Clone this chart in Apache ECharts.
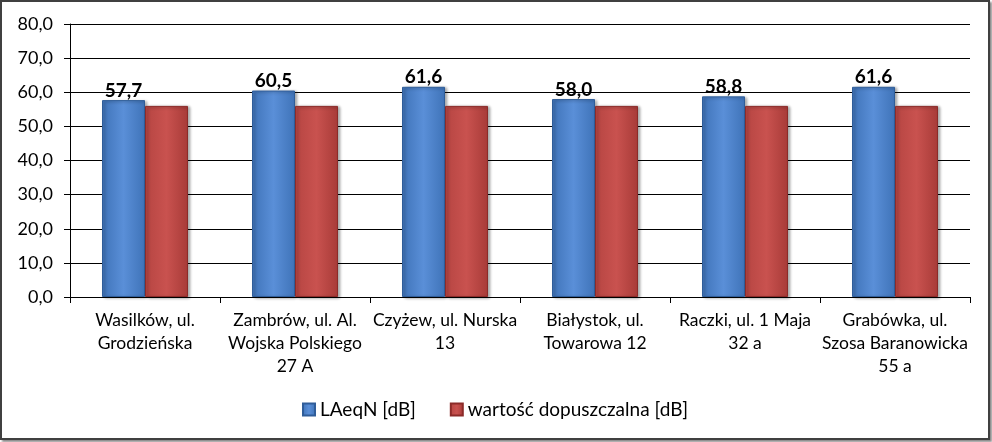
<!DOCTYPE html>
<html><head><meta charset="utf-8">
<script src="https://cdn.jsdelivr.net/npm/echarts@6/dist/echarts.min.js"></script>
<style>
html,body{margin:0;padding:0;background:#fff;}
#c{position:absolute;left:0;top:0;width:986px;height:436px;border:2px solid #404040;box-shadow:2px 2px 2px #8a8a8a;background:#fff;}
</style></head><body>
<div id="c"></div>
<script>
const categories = ["Wasilków, ul.\nGrodzieńska","Zambrów, ul. Al.\nWojska Polskiego\n27 A","Czyżew, ul. Nurska\n13","Białystok, ul.\nTowarowa 12","Raczki, ul. 1 Maja\n32 a","Grabówka, ul.\nSzosa Baranowicka\n55 a"];
const laeqn = [57.7, 60.5, 61.6, 58.0, 58.8, 61.6];
const dopuszczalna = [56, 56, 56, 56, 56, 56];
const seriesNames = ["LAeqN [dB]", "wartość dopuszczalna [dB]"];

const font = "Lato, 'Open Sans', sans-serif";
function grad(a,b,c){return new echarts.graphic.LinearGradient(0,0,1,0,[{offset:0,color:a},{offset:0.5,color:b},{offset:1,color:c}]);}
const chart = echarts.init(document.getElementById('c'));
chart.setOption({
  animation:false,
  grid:{left:68,right:18,top:22,bottom:141},
  legend:{bottom:14,left:'center',itemWidth:12,itemHeight:12,itemGap:34,icon:'rect',
    textStyle:{fontFamily:font,fontSize:19,color:'#000'},
    data:seriesNames},
  xAxis:{type:'category',data:categories,
    axisLine:{lineStyle:{color:'#000',width:1}},
    axisTick:{show:true,length:6,lineStyle:{color:'#000'}},
    axisLabel:{fontFamily:font,fontSize:17.5,color:'#000',lineHeight:23,margin:12,interval:0}},
  yAxis:{type:'value',min:0,max:80,interval:10,
    axisLine:{show:true,lineStyle:{color:'#000'}},
    axisTick:{show:true,length:6,lineStyle:{color:'#000'}},
    splitLine:{lineStyle:{color:'#000',width:1}},
    axisLabel:{fontFamily:font,fontSize:18,color:'#000',margin:17,formatter:v=>v.toFixed(1).replace('.',',')}},
  series:[
    {name:seriesNames[0],type:'bar',data:laeqn,barWidth:43,barGap:'0%',
      itemStyle:{color:grad('#3f73b8','#5a8fd8','#3f73b8'),borderColor:'#2f5d99',borderWidth:1,
        shadowColor:'rgba(0,0,0,0.35)',shadowBlur:3,shadowOffsetX:2,shadowOffsetY:1},
      label:{show:true,position:'top',distance:0,fontFamily:font,fontSize:19,fontWeight:'bold',color:'#000',
        formatter:p=>p.value.toFixed(1).replace('.',',')}},
    {name:seriesNames[1],type:'bar',data:dopuszczalna,barWidth:43,
      itemStyle:{color:grad('#b64542','#c9524f','#a83b38'),borderColor:'#8c2b29',borderWidth:1,
        shadowColor:'rgba(0,0,0,0.35)',shadowBlur:3,shadowOffsetX:2,shadowOffsetY:1}}
  ]
});
</script></body></html>
